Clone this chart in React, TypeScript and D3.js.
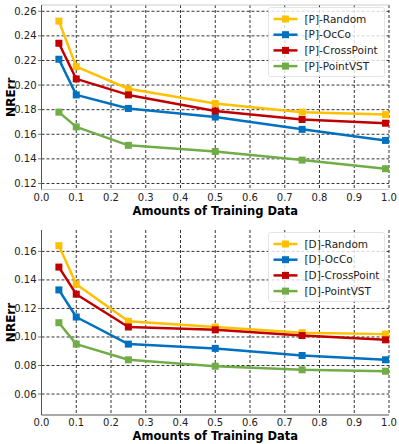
import { useRef, useEffect } from 'react'
import { select, scaleLinear, line, range } from 'd3'

const xValues = [0.05, 0.1, 0.25, 0.5, 0.75, 0.99]
const xTicks = [0, 0.1, 0.2, 0.3, 0.4, 0.5, 0.6, 0.7, 0.8, 0.9, 1.0]

const methodNames = ['Random', 'OcCo', 'CrossPoint', 'PointVST']
const methodColors = ['#ffc000', '#0070c0', '#c00000', '#70ad47']

// pretraining on [P]
const pRandom = [0.252, 0.215, 0.197, 0.185, 0.178, 0.176]
const pOcCo = [0.221, 0.192, 0.181, 0.174, 0.164, 0.155]
const pCrossPoint = [0.234, 0.205, 0.192, 0.179, 0.172, 0.169]
const pPointVST = [0.178, 0.166, 0.151, 0.146, 0.139, 0.132]
const pTicks = [0.12, 0.14, 0.16, 0.18, 0.2, 0.22, 0.24, 0.26]

// pretraining on [D]
const dRandom = [0.164, 0.137, 0.111, 0.107, 0.103, 0.102]
const dOcCo = [0.133, 0.114, 0.095, 0.092, 0.087, 0.084]
const dCrossPoint = [0.149, 0.13, 0.107, 0.105, 0.101, 0.098]
const dPointVST = [0.11, 0.095, 0.084, 0.0795, 0.077, 0.076]
const dTicks = [0.06, 0.08, 0.1, 0.12, 0.14, 0.16]

const FONT = 'DejaVu Sans, sans-serif'

type Panel = {
  prefix: string
  series: number[][]
  ticks: number[]
  yDomain: [number, number]
  top: number
  bottom: number
  framed: boolean
}

const App = () => {
  const svgRef = useRef<SVGSVGElement>(null)

  useEffect(() => {
    const svg = select(svgRef.current)
    svg.selectAll('*').remove()

    const left = 41.5
    const right = 389

    const panels: Panel[] = [
      {
        prefix: '[P]',
        series: [pRandom, pOcCo, pCrossPoint, pPointVST],
        ticks: pTicks,
        yDomain: [0.1151, 0.2651],
        top: 5,
        bottom: 189.5,
        framed: true,
      },
      {
        prefix: '[D]',
        series: [dRandom, dOcCo, dCrossPoint, dPointVST],
        ticks: dTicks,
        yDomain: [0.0453, 0.175],
        top: 230,
        bottom: 415,
        framed: false,
      },
    ]

    panels.forEach((p) => {
      const xScale = scaleLinear().domain([0, 1]).range([left, right])
      const yScale = scaleLinear().domain(p.yDomain).range([p.bottom, p.top])
      const g = svg.append('g')

      // grid
      xTicks.forEach((t) => {
        g.append('line')
          .attr('x1', xScale(t))
          .attr('x2', xScale(t))
          .attr('y1', p.top)
          .attr('y2', p.bottom)
          .attr('stroke', '#000')
          .attr('stroke-width', 0.8)
          .attr('stroke-dasharray', '3,2')
      })
      p.ticks.forEach((t) => {
        g.append('line')
          .attr('x1', left)
          .attr('x2', right)
          .attr('y1', yScale(t))
          .attr('y2', yScale(t))
          .attr('stroke', '#000')
          .attr('stroke-width', 0.8)
          .attr('stroke-dasharray', '3,2')
      })

      // spines
      if (p.framed) {
        g.append('line')
          .attr('x1', left).attr('x2', right)
          .attr('y1', p.top).attr('y2', p.top)
          .attr('stroke', '#ccc').attr('stroke-width', 1)
        g.append('line')
          .attr('x1', left).attr('x2', right)
          .attr('y1', p.bottom).attr('y2', p.bottom)
          .attr('stroke', '#ccc').attr('stroke-width', 1)
      } else {
        g.append('line')
          .attr('x1', left).attr('x2', right)
          .attr('y1', p.bottom).attr('y2', p.bottom)
          .attr('stroke', '#555').attr('stroke-width', 1)
      }
      g.append('line')
        .attr('x1', left).attr('x2', left)
        .attr('y1', p.top).attr('y2', p.bottom)
        .attr('stroke', '#555').attr('stroke-width', 1)

      // y ticks
      p.ticks.forEach((t) => {
        g.append('line')
          .attr('x1', left - 3.5).attr('x2', left)
          .attr('y1', yScale(t)).attr('y2', yScale(t))
          .attr('stroke', '#555').attr('stroke-width', 0.8)
        g.append('text')
          .text(t.toFixed(2))
          .attr('x', left - 5)
          .attr('y', yScale(t))
          .attr('dy', '0.35em')
          .attr('text-anchor', 'end')
          .attr('font-family', FONT)
          .attr('font-size', 10)
          .attr('fill', '#222')
      })

      // x tick labels
      xTicks.forEach((t) => {
        g.append('text')
          .text(t.toFixed(1))
          .attr('x', xScale(t))
          .attr('y', p.bottom + 11)
          .attr('text-anchor', 'middle')
          .attr('font-family', FONT)
          .attr('font-size', 10)
          .attr('fill', '#222')
      })

      g.append('text')
        .text('Amounts of Training Data')
        .attr('x', (left + right) / 2)
        .attr('y', p.bottom + 25)
        .attr('text-anchor', 'middle')
        .attr('font-family', FONT)
        .attr('font-size', 11.5)
        .attr('font-weight', 'bold')
        .attr('fill', '#000')

      g.append('text')
        .text('NRErr')
        .attr('transform', `translate(14.5, ${(p.top + p.bottom) / 2}) rotate(-90)`)
        .attr('text-anchor', 'middle')
        .attr('font-family', FONT)
        .attr('font-size', 12)
        .attr('font-weight', 'bold')
        .attr('fill', '#000')

      // series
      const lineGen = line<number>()
        .x((_, i) => xScale(xValues[i]))
        .y((d) => yScale(d))

      p.series.forEach((s, k) => {
        const color = methodColors[k]
        g.append('path')
          .attr('d', lineGen(s))
          .attr('fill', 'none')
          .attr('stroke', color)
          .attr('stroke-width', 2.5)
          .attr('stroke-linejoin', 'round')
        g.selectAll(null)
          .data(s)
          .enter()
          .append('rect')
          .attr('x', (_, i) => xScale(xValues[i]) - 3.5)
          .attr('y', (d) => yScale(d) - 3.5)
          .attr('width', 7)
          .attr('height', 7)
          .attr('fill', color)
      })

      // legend
      const lx = 268.5
      const ly = p.top + 2.5
      g.append('rect')
        .attr('x', lx)
        .attr('y', ly)
        .attr('width', 116)
        .attr('height', 69)
        .attr('rx', 2)
        .attr('fill', '#fff')
        .attr('fill-opacity', 0.8)
        .attr('stroke', '#ddd')
        .attr('stroke-width', 0.8)
      range(methodNames.length).forEach((k) => {
        const yy = ly + 11.5 + k * 15.7
        g.append('line')
          .attr('x1', lx + 5).attr('x2', lx + 29)
          .attr('y1', yy).attr('y2', yy)
          .attr('stroke', methodColors[k])
          .attr('stroke-width', 2.5)
        g.append('rect')
          .attr('x', lx + 17 - 3.5)
          .attr('y', yy - 3.5)
          .attr('width', 7)
          .attr('height', 7)
          .attr('fill', methodColors[k])
        g.append('text')
          .text(`${p.prefix}-${methodNames[k]}`)
          .attr('x', lx + 36)
          .attr('y', yy)
          .attr('dy', '0.35em')
          .attr('font-family', FONT)
          .attr('font-size', 10.5)
          .attr('fill', '#222')
      })
    })
  }, [])

  return (
    <svg
      ref={svgRef}
      width={399}
      height={444}
      style={{ position: 'absolute', left: 0, top: 0, background: '#fff' }}
    />
  )
}

export default App
